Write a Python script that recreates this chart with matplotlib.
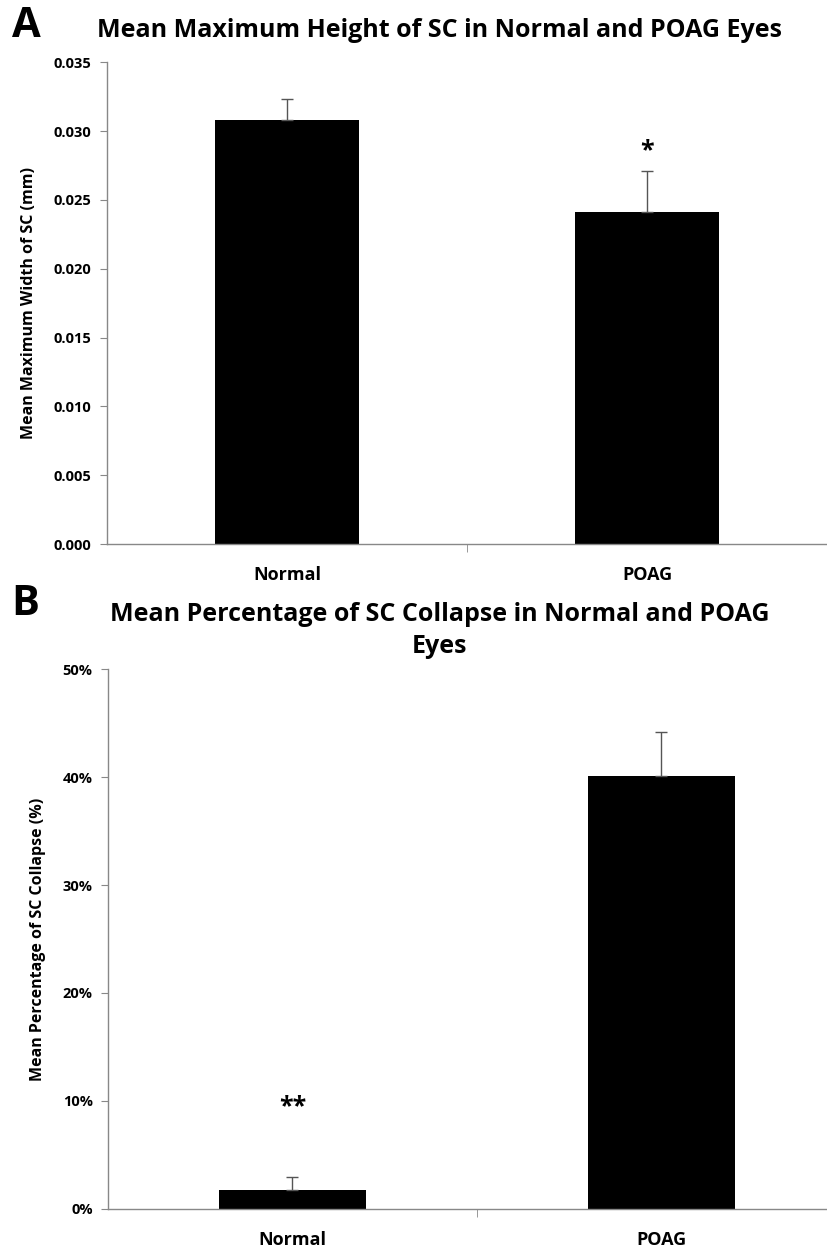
import matplotlib
matplotlib.use('Agg')
import matplotlib.pyplot as plt
from matplotlib.ticker import FuncFormatter

plt.rcParams['font.family'] = ['Open Sans', 'DejaVu Sans']
plt.rcParams['font.weight'] = 'bold'

groups = ['Normal', 'POAG']

# A: maximum height of SC (mm)
height_mean = [0.0308, 0.0241]
height_err = [0.0015, 0.0030]

# B: percentage of SC collapse (%)
collapse_mean = [1.8, 40.1]
collapse_err = [1.2, 4.1]

grey = '#888888'

fig = plt.figure(figsize=(8.27, 12.51), dpi=100)


def style_axes(ax):
    for s in ['top', 'right']:
        ax.spines[s].set_visible(False)
    for s in ['left', 'bottom']:
        ax.spines[s].set_color(grey)
        ax.spines[s].set_linewidth(1)
    ax.set_xlim(-0.5, 1.5)
    ax.set_xticks([0, 1])
    ax.set_xticklabels(groups, fontsize=13, fontweight='bold')
    ax.tick_params(axis='x', which='major', length=0, pad=16)
    ax.set_xticks([0.5], minor=True)
    ax.tick_params(axis='x', which='minor', length=6, color=grey)
    ax.tick_params(axis='y', length=5, color=grey, labelsize=10.5, pad=6)
    for t in ax.get_yticklabels():
        t.set_fontweight('bold')


# ---------------- panel A
ax1 = fig.add_axes([0.1294, 0.565, 0.8706, 0.3853])
ax1.bar(range(2), height_mean, width=0.4, color='black',
        yerr=[[0, 0], height_err], ecolor='#555555', capsize=4,
        error_kw={'elinewidth': 1, 'capthick': 1})
ax1.set_ylim(0, 0.035)
ax1.set_yticks([0, 0.005, 0.010, 0.015, 0.020, 0.025, 0.030, 0.035])
ax1.yaxis.set_major_formatter(FuncFormatter(lambda v, p: '%.3f' % v))
style_axes(ax1)
ax1.set_ylabel('Mean Maximum Width of SC (mm)', fontsize=11.5, fontweight='bold', labelpad=12)
ax1.text(1, height_mean[1] + height_err[1] + 0.0006, '*', ha='center', va='bottom',
         fontsize=18, fontweight='bold')
fig.text(0.532, 0.976, 'Mean Maximum Height of SC in Normal and POAG Eyes',
         ha='center', va='center', fontsize=18, fontweight='bold')
fig.text(0.014, 0.979, 'A', ha='left', va='center', fontsize=30, fontweight='bold')

# ---------------- panel B
ax2 = fig.add_axes([0.1306, 0.0336, 0.892, 0.4316])
ax2.bar(range(2), collapse_mean, width=0.4, color='black',
        yerr=[[0, 0], collapse_err], ecolor='#555555', capsize=4,
        error_kw={'elinewidth': 1, 'capthick': 1})
ax2.set_ylim(0, 50)
ax2.set_yticks([0, 10, 20, 30, 40, 50])
ax2.yaxis.set_major_formatter(FuncFormatter(lambda v, p: '%d%%' % v))
style_axes(ax2)
ax2.set_ylabel('Mean Percentage of SC Collapse (%)', fontsize=11.5, fontweight='bold', labelpad=12)
ax2.text(0, collapse_mean[0] + collapse_err[0] + 5.3, '**', ha='center', va='bottom',
         fontsize=18, fontweight='bold')
fig.text(0.532, 0.496, 'Mean Percentage of SC Collapse in Normal and POAG\nEyes',
         ha='center', va='center', fontsize=18, fontweight='bold', linespacing=1.4)
fig.text(0.014, 0.517, 'B', ha='left', va='center', fontsize=30, fontweight='bold')

fig.savefig('out.png', dpi=100)
